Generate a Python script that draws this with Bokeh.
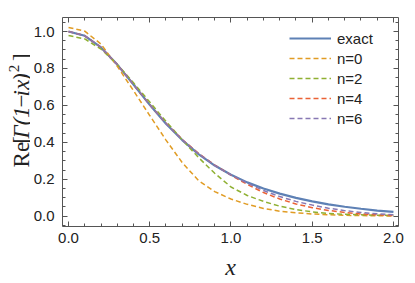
import math
from bokeh.plotting import figure
from bokeh.layouts import row
from bokeh.models import (Range1d, LinearAxis, SingleIntervalTicker, Label,
                          Legend, LegendItem, PrintfTickFormatter)
from bokeh.embed import file_html
from bokeh.resources import INLINE

# ---- data ----
x_vals = [0.0, 0.1, 0.2, 0.3, 0.4, 0.5, 0.6, 0.7, 0.8, 0.9, 1.0,
          1.1, 1.2, 1.3, 1.4, 1.5, 1.6, 1.7, 1.8, 1.9, 2.0]
exact = [1.000, 0.977, 0.914, 0.821, 0.713, 0.603, 0.501, 0.412, 0.336, 0.274, 0.224,
         0.183, 0.150, 0.122, 0.099, 0.080, 0.064, 0.051, 0.040, 0.030, 0.023]
n0 = [1.022, 1.002, 0.932, 0.812, 0.680, 0.545, 0.412, 0.290, 0.193, 0.133, 0.093,
      0.064, 0.042, 0.027, 0.018, 0.012, 0.008, 0.005, 0.003, 0.002, 0.001]
n2 = [0.978, 0.960, 0.905, 0.822, 0.722, 0.618, 0.513, 0.413, 0.318, 0.232, 0.158,
      0.112, 0.080, 0.054, 0.036, 0.023, 0.015, 0.010, 0.007, 0.005, 0.004]
n4 = [1.000, 0.977, 0.914, 0.821, 0.713, 0.604, 0.503, 0.415, 0.340, 0.277, 0.222,
      0.172, 0.128, 0.093, 0.066, 0.046, 0.031, 0.020, 0.012, 0.007, 0.004]
n6 = [1.000, 0.977, 0.914, 0.821, 0.713, 0.603, 0.502, 0.413, 0.338, 0.275, 0.223,
      0.179, 0.139, 0.106, 0.080, 0.060, 0.043, 0.030, 0.020, 0.013, 0.008]
series_labels = ["exact", "n=0", "n=2", "n=4", "n=6"]
series_colors = ["#5E81B5", "#E19C24", "#8FB032", "#EB6235", "#8778B3"]
x_ticks_interval = 0.5
y_ticks_interval = 0.2

AX = "#555555"
TXT = "#222222"
SERIF = "Liberation Serif"
SANS = "Liberation Sans"

p = figure(width=380, height=283, output_backend="svg", toolbar_location=None,
           x_range=Range1d(-0.037, 2.031), y_range=Range1d(-0.056, 1.076),
           min_border_left=31, min_border_right=12, min_border_top=17, min_border_bottom=57)
p.xgrid.grid_line_color = None
p.ygrid.grid_line_color = None
p.outline_line_color = None
p.background_fill_color = "white"
p.border_fill_color = "white"

def style(ax, show_labels):
    ax.axis_line_color = AX
    ax.axis_line_width = 1
    ax.major_tick_line_color = AX
    ax.minor_tick_line_color = AX
    ax.major_tick_in = 5
    ax.major_tick_out = 0
    ax.minor_tick_in = 3
    ax.minor_tick_out = 0
    if show_labels:
        ax.major_label_text_font = SANS
        ax.major_label_text_font_size = "15px"
        ax.major_label_text_color = TXT
    else:
        ax.major_label_text_font_size = "1px"
        ax.major_label_text_color = None
        ax.major_label_standoff = 0

p.xaxis.ticker = SingleIntervalTicker(interval=x_ticks_interval, num_minor_ticks=5)
p.yaxis.ticker = SingleIntervalTicker(interval=y_ticks_interval, num_minor_ticks=4)
p.xaxis.formatter = PrintfTickFormatter(format="%.1f")
p.yaxis.formatter = PrintfTickFormatter(format="%.1f")
style(p.xaxis[0], True)
style(p.yaxis[0], True)
p.xaxis.major_label_standoff = 6
p.yaxis.major_label_standoff = 8
p.xaxis.axis_label = "x"
p.xaxis.axis_label_text_font = SERIF
p.xaxis.axis_label_text_font_style = "italic"
p.xaxis.axis_label_text_font_size = "24px"
p.xaxis.axis_label_text_color = TXT
p.xaxis.axis_label_standoff = 8

top_ax = LinearAxis(ticker=SingleIntervalTicker(interval=x_ticks_interval, num_minor_ticks=5))
right_ax = LinearAxis(ticker=SingleIntervalTicker(interval=y_ticks_interval, num_minor_ticks=4))
style(top_ax, False)
style(right_ax, False)
p.add_layout(top_ax, "above")
p.add_layout(right_ax, "right")

renderers = []
r = p.line(x_vals, exact, line_color=series_colors[0], line_width=2.2)
renderers.append(r)
for ys, c in zip([n0, n2, n4, n6], series_colors[1:]):
    r = p.line(x_vals, ys, line_color=c, line_width=1.5, line_dash="5 3")
    renderers.append(r)

legend = Legend(items=[LegendItem(label=l, renderers=[r]) for l, r in zip(series_labels, renderers)],
                location=(227, 98))
legend.background_fill_alpha = 0
legend.border_line_color = None
legend.padding = 0
legend.margin = 0
legend.spacing = 0
legend.glyph_width = 42
legend.glyph_height = 20
legend.label_height = 20
legend.label_standoff = 6
legend.label_text_font = SANS
legend.label_text_font_size = "15px"
legend.label_text_color = TXT
p.add_layout(legend)

# ---- narrow strip on the left that carries the y-axis title ----
lab = figure(width=30, height=283, output_backend="svg", toolbar_location=None,
             x_range=Range1d(0, 30), y_range=Range1d(283, 0),
             x_axis_type=None, y_axis_type=None,
             min_border_left=0, min_border_right=0, min_border_top=0, min_border_bottom=0)
lab.xgrid.grid_line_color = None
lab.ygrid.grid_line_color = None
lab.outline_line_color = None
lab.background_fill_color = "white"
lab.border_fill_color = "white"

def tlabel(x, y, text, size="23px", italic=False):
    return Label(x=x, y=y, text=text, angle=math.pi / 2, text_align="left",
                 text_baseline="alphabetic", text_font=SERIF,
                 text_font_style="italic" if italic else "normal",
                 text_font_size=size, text_color=TXT)

# (text, start position along the axis, baseline, size, italic)
ylabel_parts = [("Re", 203, 21, "23px", False), ("[", 171, 21, "23px", False),
                ("Γ", 164, 21, "23px", True), ("(", 146, 21, "23px", True),
                ("1", 136, 21, "23px", True), ("−", 122, 21, "23px", False),
                ("i", 107, 21, "23px", True), ("x", 98, 21, "23px", True),
                (")", 86, 21, "23px", True), ("2", 74, 13, "15px", False),
                ("]", 59, 21, "23px", False)]
for t, yy, xx, sz, it in ylabel_parts:
    lab.add_layout(tlabel(xx, yy, t, size=sz, italic=it))

layout = row(lab, p)
open("out.html", "w").write(file_html(layout, INLINE))
